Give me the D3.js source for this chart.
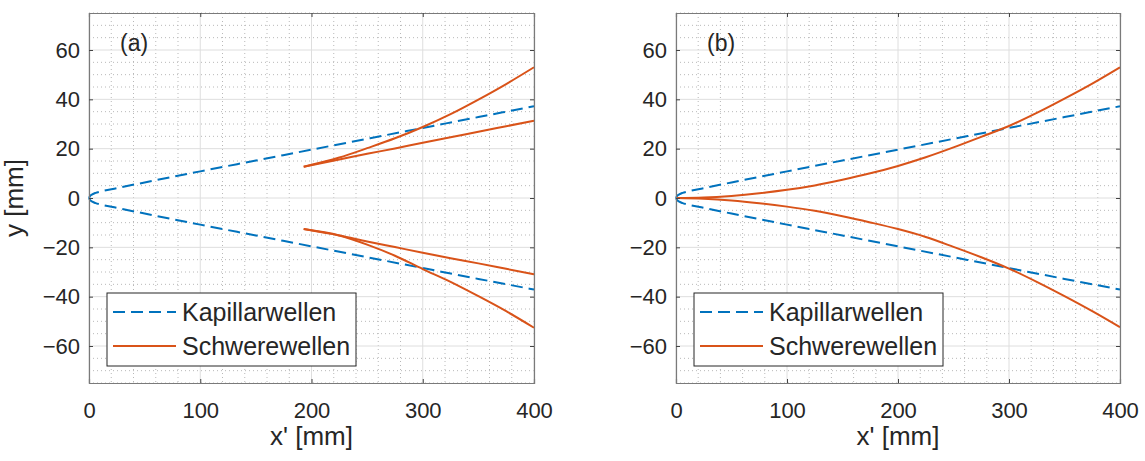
<!DOCTYPE html>
<html>
<head>
<meta charset="utf-8">
<script src="https://cdn.jsdelivr.net/npm/d3@7"></script>
<style>
  html, body { margin: 0; padding: 0; background: #fff; }
  svg { display: block; }
  text { font-family: "Liberation Sans", Arial, Helvetica, sans-serif; fill: #262626; }
</style>
</head>
<body>
<svg id="chart" width="1145" height="461"></svg>
<script>
// ---------- data ----------
const xTicks = [0, 100, 200, 300, 400];
const yTicks = [-60, -40, -20, 0, 20, 40, 60];
const seriesNames = ["Kapillarwellen", "Schwerewellen"];
const panelLabels = ["(a)", "(b)"];

// Kapillarwellen (same in both panels), upper and lower branch
const kapX = [0, 1, 3, 6, 10, 25, 50, 100, 150, 200, 250, 300, 350, 400];
const kapYUp = [0, 0.8, 1.5, 2.1, 2.6, 4.0, 6.3, 10.8, 15.2, 19.6, 24.0, 28.4, 32.8, 37.2];
const kapYLo = [0, -0.8, -1.5, -2.1, -2.6, -4.0, -6.3, -10.8, -15.2, -19.6, -24.0, -28.4, -32.8, -37.1];

// Panel (a) Schwerewellen: four branches starting at x ~ 193
const schwAX = [193, 225, 250, 275, 300, 325, 350, 375, 400];
const schwAUpCurve = [12.7, 16.4, 20.2, 24.2, 28.8, 34.0, 39.9, 46.2, 53.0];
const schwAUpLine = [12.7, 15.6, 17.9, 20.1, 22.4, 24.6, 26.9, 29.1, 31.3];
const schwALoCurve = [-12.6, -15.2, -18.9, -23.4, -28.8, -34.0, -39.8, -45.9, -52.6];
const schwALoLine = [-12.6, -15.2, -17.6, -19.9, -22.2, -24.4, -26.5, -28.7, -30.9];

// Panel (b) Schwerewellen: starting at origin
const schwBX = [0, 25, 50, 75, 100, 125, 150, 175, 200, 225, 250, 275, 300, 325, 350, 375, 400];
const schwBUp = [0, 0.2, 0.85, 1.9, 3.3, 5.1, 7.4, 10.0, 13.0, 16.5, 20.5, 24.8, 29.2, 34.5, 40.3, 46.4, 53.0];
const schwBLo = [0, -0.3, -1.0, -2.1, -3.5, -5.2, -7.4, -9.9, -12.6, -15.8, -19.8, -24.0, -28.6, -34.0, -39.8, -45.9, -52.4];

const zip = (xs, ys) => xs.map((x, i) => [x, ys[i]]);

const panels = [
  {
    label: panelLabels[0],
    kap: [zip(kapX, kapYUp), zip(kapX, kapYLo)],
    schw: [zip(schwAX, schwAUpCurve), zip(schwAX, schwAUpLine), zip(schwAX, schwALoCurve), zip(schwAX, schwALoLine)]
  },
  {
    label: panelLabels[1],
    kap: [zip(kapX, kapYUp), zip(kapX, kapYLo)],
    schw: [zip(schwBX, schwBUp), zip(schwBX, schwBLo)]
  }
];

// ---------- layout ----------
const svg = d3.select("#chart");
const layout = [
  { left: 89, top: 13, width: 445, height: 370 },
  { left: 676, top: 13, width: 444, height: 370 }
];
const blue = "#0072BD", orange = "#D95319";

panels.forEach((p, idx) => {
  const L = layout[idx];
  const g = svg.append("g").attr("transform", `translate(${L.left},${L.top})`);
  const x = d3.scaleLinear().domain([0, 400]).range([0, L.width]);
  const y = d3.scaleLinear().domain([-75, 75]).range([L.height, 0]);

  // minor grid
  const minorX = d3.range(0, 401, 20).filter(v => v % 100 !== 0);
  const minorY = d3.range(-75, 76, 5).filter(v => v % 20 !== 0);
  g.append("g").selectAll("line").data(minorX).join("line")
    .attr("x1", d => x(d)).attr("x2", d => x(d)).attr("y1", 0).attr("y2", L.height)
    .attr("stroke", "#b8b8b8").attr("stroke-width", 1).attr("stroke-dasharray", "1,3");
  g.append("g").selectAll("line").data(minorY).join("line")
    .attr("y1", d => y(d)).attr("y2", d => y(d)).attr("x1", 0).attr("x2", L.width)
    .attr("stroke", "#b8b8b8").attr("stroke-width", 1).attr("stroke-dasharray", "1,3");
  // major grid
  g.append("g").selectAll("line").data(xTicks).join("line")
    .attr("x1", d => x(d)).attr("x2", d => x(d)).attr("y1", 0).attr("y2", L.height)
    .attr("stroke", "#dedede").attr("stroke-width", 1);
  g.append("g").selectAll("line").data(yTicks).join("line")
    .attr("y1", d => y(d)).attr("y2", d => y(d)).attr("x1", 0).attr("x2", L.width)
    .attr("stroke", "#dedede").attr("stroke-width", 1);

  // data lines
  const line = d3.line().x(d => x(d[0])).y(d => y(d[1])).curve(d3.curveMonotoneX);
  p.kap.forEach(d => g.append("path").datum(d).attr("d", line)
    .attr("fill", "none").attr("stroke", blue).attr("stroke-width", 2)
    .attr("stroke-dasharray", "12,6"));
  p.schw.forEach(d => g.append("path").datum(d).attr("d", line)
    .attr("fill", "none").attr("stroke", orange).attr("stroke-width", 2));

  // axes
  const axB = g.append("g").attr("transform", `translate(0,${L.height})`)
    .call(d3.axisBottom(x).tickValues(xTicks).tickSize(-4).tickPadding(19));
  const axT = g.append("g").call(d3.axisTop(x).tickValues(xTicks).tickSize(-4).tickFormat(""));
  const axL = g.append("g").call(d3.axisLeft(y).tickValues(yTicks).tickSize(-4).tickPadding(9));
  const axR = g.append("g").attr("transform", `translate(${L.width},0)`)
    .call(d3.axisRight(y).tickValues(yTicks).tickSize(-4).tickFormat(""));
  [axB, axT, axL, axR].forEach(a => {
    a.select(".domain").attr("stroke", "#7a7a7a").attr("stroke-width", 1.2);
    a.selectAll(".tick line").attr("stroke", "#444");
    a.selectAll("text").attr("font-size", 22).attr("fill", "#262626")
      .attr("font-family", '"Liberation Sans", Arial, sans-serif');
  });

  // axis labels
  g.append("text").attr("x", L.width / 2).attr("y", L.height + 62)
    .attr("text-anchor", "middle").attr("font-size", 26).text("x' [mm]");
  if (idx === 0) {
    g.append("text").attr("transform", `translate(${-66},${L.height / 2}) rotate(-90)`)
      .attr("text-anchor", "middle").attr("font-size", 26).text("y [mm]");
  }

  // panel label
  g.append("text").attr("x", 31).attr("y", 38).attr("font-size", 23).text(p.label);

  // legend
  const lg = g.append("g").attr("transform", "translate(18,280)");
  lg.append("rect").attr("width", 249).attr("height", 73)
    .attr("fill", "#fff").attr("stroke", "#262626").attr("stroke-width", 1);
  const styles = [{ c: blue, dash: "12,6" }, { c: orange, dash: null }];
  seriesNames.forEach((name, i) => {
    const cy = 19 + i * 34;
    lg.append("line").attr("x1", 6).attr("x2", 69).attr("y1", cy).attr("y2", cy)
      .attr("stroke", styles[i].c).attr("stroke-width", 2)
      .attr("stroke-dasharray", styles[i].dash);
    lg.append("text").attr("x", 75).attr("y", cy).attr("dy", "0.36em")
      .attr("font-size", 25).text(name);
  });
});
</script>
</body>
</html>
